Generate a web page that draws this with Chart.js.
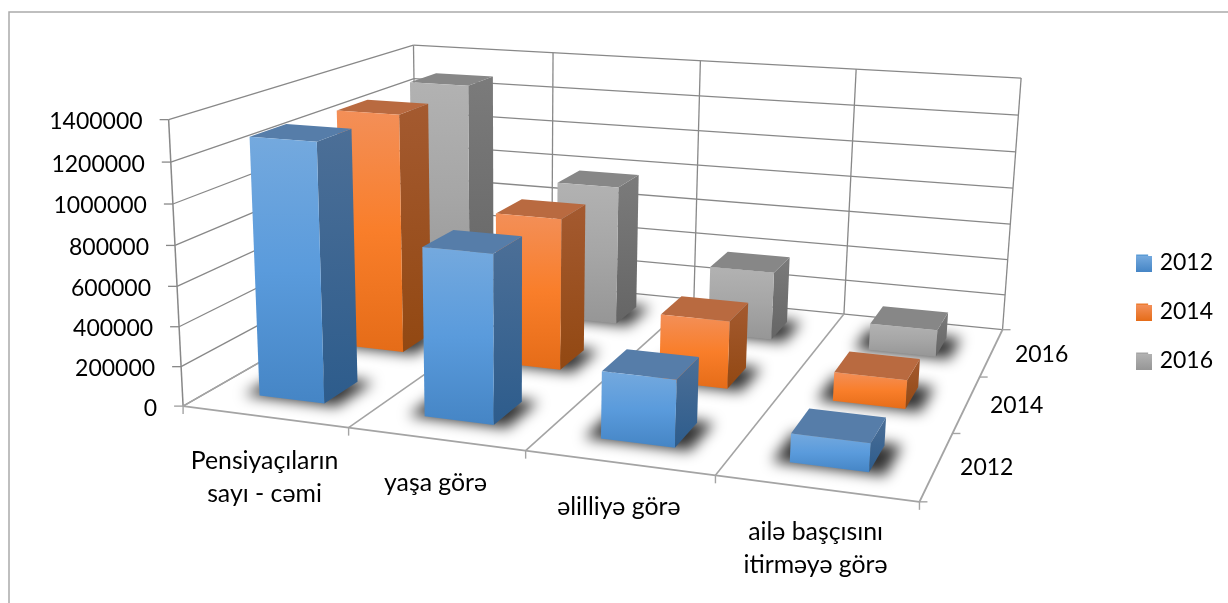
<!DOCTYPE html>
<html><head><meta charset="utf-8">
<style>html,body{margin:0;padding:0;background:#fff}canvas{display:block}</style>
<script src="https://cdn.jsdelivr.net/npm/chart.js@4"></script></head>
<body><canvas id="c" width="1228" height="603"></canvas>
<script>
const categories=[['Pensiyaçıların','sayı - cəmi'],'yaşa görə','əlilliyə görə',['ailə başçısını','itirməyə görə']];
const seriesNames=['2012','2014','2016'];
const values2012=[1290000,830000,325000,135000];
const values2014=[1270000,795000,350000,147000];
const values2016=[1285000,775000,375000,145000];
const axisMax=1400000, axisStep=200000;
const palette=[
 {front:['#74a9de','#5a9bdc','#4585c5'],side:['#4c6f97','#2d5c8c'],top:'#567da9',solid:'#5b9bd5'},
 {front:['#f38f58','#f97e2a','#e56c18'],side:['#a45a30','#924812'],top:'#b96a40',solid:'#ed7d31'},
 {front:['#b2b2b2','#a6a6a6','#969696'],side:['#7b7b7b','#656565'],top:'#878787',solid:'#a5a5a5'}
];
const NUM_FONT='23px Lato, Carlito, sans-serif';
const TXT_FONT='24.8px Lato, Carlito, sans-serif';

// camera calibration: [u(category), v(depth), w(axis fraction)] -> page pixel of the plot box
const calib=[
 [0,0,0,184.3,406.7],[0,0,1,166.3,119.3],[1,0,0,349,428.3],[3,0,0,716,475],[4,0,0,918.3,502.3],
 [4,3,0,1002.7,330],[3,3,0,845,314],[4,3,1,1020.7,77.3],[3,3,1,856,69.3],[0,3,1,415.7,46.7],[0,3,0,414,271],
 [0,0,6/7,170.5,161],[0,0,5/7,173,204],[0,0,3/7,177.5,286],[0,0,1/7,182,367]
];
function solveCamera(pts){
 const n=11,A=Array.from({length:n},()=>new Array(n+1).fill(0));
 const add=(r,b)=>{for(let i=0;i<n;i++){for(let j=0;j<n;j++)A[i][j]+=r[i]*r[j];A[i][n]+=r[i]*b;}};
 pts.forEach(([u,v,w,x,y])=>{x/=1000;y/=1000;
  add([u,v,w,1,0,0,0,0,-x*u,-x*v,-x*w],x);
  add([0,0,0,0,u,v,w,1,-y*u,-y*v,-y*w],y);});
 for(let i=0;i<n;i++){let p=i;for(let k=i+1;k<n;k++)if(Math.abs(A[k][i])>Math.abs(A[p][i]))p=k;
  [A[i],A[p]]=[A[p],A[i]];
  for(let k=0;k<n;k++)if(k!==i){const f=A[k][i]/A[i][i];for(let j=i;j<=n;j++)A[k][j]-=f*A[i][j];}}
 return A.map((r,i)=>r[n]/r[i]);
}
const cam=solveCamera(calib);
function P(u,v,w){const d=cam[8]*u+cam[9]*v+cam[10]*w+1;
 return {x:1000*(cam[0]*u+cam[1]*v+cam[2]*w+cam[3])/d,y:1000*(cam[4]*u+cam[5]*v+cam[6]*w+cam[7])/d};}

function line(ctx,a,b,color,width){ctx.strokeStyle=color;ctx.lineWidth=width;ctx.beginPath();ctx.moveTo(a.x,a.y);ctx.lineTo(b.x,b.y);ctx.stroke();}
function poly(ctx,pts,fill){ctx.fillStyle=fill;ctx.beginPath();pts.forEach((p,i)=>i?ctx.lineTo(p.x,p.y):ctx.moveTo(p.x,p.y));ctx.closePath();ctx.fill();}
function vgrad(ctx,y0,y1,stops){const g=ctx.createLinearGradient(0,y0,0,y1);stops.forEach((c,i)=>g.addColorStop(i/(stops.length-1),c));return g;}

const plugin3d={id:'plot3d',
 beforeDraw(chart){const ctx=chart.ctx;ctx.save();
  ctx.strokeStyle='#aaaaaa';ctx.lineWidth=1.5;ctx.beginPath();ctx.moveTo(9,603);ctx.lineTo(9,12);ctx.lineTo(1228,12);ctx.stroke();ctx.restore();},
 beforeDatasetsDraw(chart){
  const ctx=chart.ctx,xs=chart.scales.x,ys=chart.scales.y,area=chart.chartArea;
  const nU=categories.length,nV=seriesNames.length,cellW=area.width/nU;
  const GRID='#888888',AXIS='#a4a4a4';
  ctx.save();
  // walls
  ys.ticks.forEach(t=>{const w=t.value/ys.max,a=P(0,0,w),b=P(0,nV,w),c=P(nU,nV,w);
   line(ctx,a,b,GRID,1.3);line(ctx,b,c,GRID,1.3);
   if(t.value>0)line(ctx,a,{x:a.x-9,y:a.y},GRID,1.3);});
  for(let u=0;u<=nU;u++)line(ctx,P(u,nV,0),P(u,nV,1),GRID,1.3);
  line(ctx,P(0,0,0),P(0,0,1),GRID,1.5);
  // floor
  for(let u=1;u<nU;u++)line(ctx,P(u,0,0),P(u,nV,0),AXIS,1.6);
  line(ctx,P(0,0,0),P(0,nV,0),AXIS,1.6);
  line(ctx,P(0,0,0),P(nU,0,0),AXIS,1.9);
  line(ctx,P(nU,0,0),P(nU,nV,0),AXIS,1.9);
  const z=P(0,0,0);line(ctx,{x:z.x-9,y:z.y},z,AXIS,1.4);
  for(let u=0;u<=nU;u++){const a=P(u,0,0);line(ctx,a,{x:a.x,y:a.y+8},AXIS,1.4);}
  for(let v=0;v<=nV;v++){const a=P(nU,v,0);line(ctx,a,{x:a.x+8,y:a.y},AXIS,1.4);}
  // bars geometry comes from the chart's own elements
  const bars=[];
  chart.data.datasets.forEach((ds,di)=>{chart.getDatasetMeta(di).data.forEach(el=>{
   const uc=(el.x-area.left)/cellW,hw=el.width/cellW/2,w=ys.getValueForPixel(el.y)/ys.max;
   bars.push({u0:uc-hw,u1:uc+hw,v0:di+.5-hw,v1:di+.5+hw,w,di});});});
  // shadows
  ctx.save();ctx.filter='blur(7px)';
  bars.forEach(b=>{poly(ctx,[P(b.u0-.085,b.v0-.02,0),P(b.u1+.085,b.v0-.02,0),P(b.u1+.085,b.v1+.03,0),P(b.u0-.085,b.v1+.03,0)],'rgba(0,0,0,.8)');});
  ctx.restore();
  // cuboids, far to near
  bars.sort((a,b)=>b.di-a.di||a.u0-b.u0).forEach(b=>{const c=palette[b.di];
   const f0=P(b.u0,b.v0,0),f1=P(b.u1,b.v0,0),f2=P(b.u1,b.v0,b.w),f3=P(b.u0,b.v0,b.w);
   const r0=P(b.u1,b.v1,0),r1=P(b.u1,b.v1,b.w),t=P(b.u0,b.v1,b.w);
   poly(ctx,[f1,r0,r1,f2],vgrad(ctx,Math.min(f2.y,r1.y),Math.max(f1.y,r0.y),c.side));
   poly(ctx,[f3,f2,r1,t],c.top);
   poly(ctx,[f0,f1,f2,f3],vgrad(ctx,f3.y,f1.y,c.front));
  });
  // axis text
  ctx.fillStyle='#000';ctx.textBaseline='middle';
  ctx.font=NUM_FONT;ctx.textAlign='right';
  ys.ticks.forEach(t=>{const a=P(0,0,t.value/ys.max);ctx.fillText(t.label,a.x-26,a.y+2);});
  ctx.textAlign='center';
  seriesNames.forEach((s,i)=>{const a=P(nU,i+.5,0);ctx.fillText(s,a.x+50,a.y+2);});
  ctx.font=TXT_FONT;
  xs.getLabels().forEach((lab,i)=>{const a=P(i+.5,0,0);
   (Array.isArray(lab)?lab:[lab]).forEach((s,k)=>ctx.fillText(s,a.x,a.y+44+k*33));});
  ctx.restore();
  return false;
 },
 afterDraw(chart){const ctx=chart.ctx,hb=chart.legend.legendHitBoxes;
  hb.forEach((h,i)=>{const c=palette[i],top=Math.round(h.top+(h.height-16)/2)+1;
   ctx.fillStyle=vgrad(ctx,top,top+16,[c.front[0],c.front[2]]);
   ctx.fillRect(Math.round(h.left),top,16,16);});}
};

new Chart(document.getElementById('c'),{
 type:'bar',
 data:{labels:categories,datasets:[
  {label:seriesNames[0],data:values2012,backgroundColor:palette[0].solid},
  {label:seriesNames[1],data:values2014,backgroundColor:palette[1].solid},
  {label:seriesNames[2],data:values2016,backgroundColor:palette[2].solid}]},
 options:{responsive:false,animation:false,
  layout:{padding:{right:5,top:20,bottom:0}},
  datasets:{bar:{grouped:false,categoryPercentage:1,barPercentage:.4}},
  scales:{
   x:{ticks:{display:false,autoSkip:false},grid:{display:false},border:{display:false}},
   y:{min:0,max:axisMax,ticks:{display:false,stepSize:axisStep,autoSkip:false,callback:v=>String(v)},grid:{display:false},border:{display:false}}
  },
  plugins:{tooltip:{enabled:false},
   legend:{position:'right',labels:{font:{family:'Lato, Carlito, sans-serif',size:23},color:'#000',boxWidth:12,boxHeight:16,padding:26}}}
 },
 plugins:[plugin3d]
});
</script></body></html>
